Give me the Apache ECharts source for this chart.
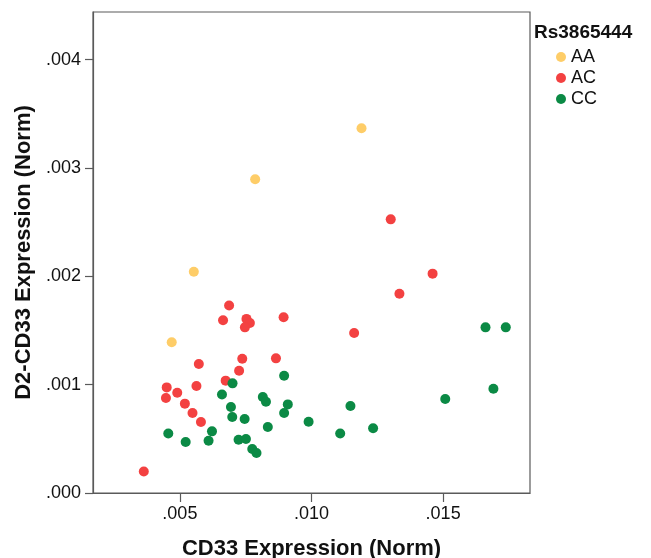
<!DOCTYPE html>
<html>

<head>
    <meta http-equiv="Content-Type" content="text/html; charset=utf-8" />
    <title>D2-CD33 vs CD33</title>
    <script src="https://cdn.jsdelivr.net/npm/echarts@6/dist/echarts.min.js"></script>
    <style>
        html, body { margin: 0; padding: 0; background: #fff; }
        #div1 { width: 651px; height: 558px; }
    </style>
</head>

<body>

    <div id="div1"></div>
    <script type="text/javascript">
        // genotype groups, [CD33, D2-CD33]
        var genotypes = ['AA', 'AC', 'CC'];

        var aaData = [
            [0.01190, 0.003367], [0.00786, 0.002896], [0.00553, 0.002043], [0.00469, 0.001391]
        ];

        var acData = [
            [0.00687, 0.001730], [0.00664, 0.001594], [0.00753, 0.001607], [0.00766, 0.001570],
            [0.00747, 0.001529], [0.00894, 0.001622], [0.00572, 0.001191], [0.00737, 0.001240],
            [0.00865, 0.001243], [0.00725, 0.001129], [0.00674, 0.001037], [0.00450, 0.000975],
            [0.00563, 0.000988], [0.00490, 0.000926], [0.00447, 0.000877], [0.00519, 0.000825],
            [0.00548, 0.000739], [0.00580, 0.000656], [0.00363, 0.000199], [0.01334, 0.001840],
            [0.01162, 0.001477], [0.01301, 0.002526], [0.01460, 0.002025]
        ];

        var ccData = [
            [0.00700, 0.001012], [0.00896, 0.001083], [0.00660, 0.000910], [0.00815, 0.000886],
            [0.00827, 0.000843], [0.00694, 0.000794], [0.00910, 0.000818], [0.00699, 0.000702],
            [0.00746, 0.000683], [0.00896, 0.000739], [0.00989, 0.000658], [0.00834, 0.000609],
            [0.00622, 0.000569], [0.00456, 0.000550], [0.00609, 0.000483], [0.00522, 0.000471],
            [0.00723, 0.000492], [0.00751, 0.000499], [0.00775, 0.000406], [0.00791, 0.000369],
            [0.01661, 0.001529], [0.01738, 0.001529], [0.01691, 0.000963], [0.01508, 0.000868],
            [0.01148, 0.000803], [0.01234, 0.000597], [0.01109, 0.000550]
        ];

        var xTicks = [0.005, 0.010, 0.015];
        var yTicks = [0, 0.001, 0.002, 0.003, 0.004];

        var colors = ['#fecd68', '#f34141', '#0b8a45'];

        var myChart = echarts.init(document.getElementById('div1'));

        function fmt(v) {
            return v.toFixed(3).replace(/^0/, '');
        }

        var dot = function(name, data, color) {
            return {
                name: name,
                type: 'scatter',
                data: data,
                symbol: 'circle',
                symbolSize: 10,
                itemStyle: { color: color, opacity: 1 }
            };
        };

        var option = {
            animation: false,
            textStyle: { fontFamily: 'Liberation Sans, Arial, sans-serif' },
            title: {
                text: 'Rs3865444',
                left: 534,
                top: 23,
                padding: 0,
                textStyle: { fontSize: 19, fontWeight: 'bold', color: '#111' }
            },
            legend: {
                data: genotypes,
                orient: 'vertical',
                left: 556,
                top: 48,
                padding: 0,
                icon: 'circle',
                itemWidth: 10,
                itemHeight: 10,
                itemGap: 3,
                textStyle: { fontSize: 18, lineHeight: 18, color: '#111' }
            },
            grid: {
                left: 93,
                right: 121,
                top: 12,
                bottom: 65,
                outerBoundsMode: 'none',
                containLabel: false,
                show: true,
                borderColor: '#5a5a5a',
                borderWidth: 1.2
            },
            xAxis: {
                type: 'value',
                min: 0.0017,
                max: 0.0183,
                name: 'CD33 Expression (Norm)',
                nameLocation: 'middle',
                nameGap: 45,
                nameTextStyle: { fontSize: 22, fontWeight: 'bold', color: '#111' },
                splitLine: { show: false },
                axisLine: { lineStyle: { color: '#5a5a5a', width: 1.2 } },
                axisTick: { length: 9, customValues: xTicks, lineStyle: { color: '#5a5a5a', width: 1.2 } },
                axisLabel: { customValues: xTicks, fontSize: 18, color: '#111', margin: 12, formatter: fmt }
            },
            yAxis: {
                type: 'value',
                min: 0,
                max: 0.00444,
                name: 'D2-CD33 Expression (Norm)',
                nameLocation: 'middle',
                nameGap: 45,
                nameTextStyle: { fontSize: 22, fontWeight: 'bold', color: '#111' },
                splitLine: { show: false },
                axisLine: { lineStyle: { color: '#5a5a5a', width: 1.2 } },
                axisTick: { length: 8, customValues: yTicks, lineStyle: { color: '#5a5a5a', width: 1.2 } },
                axisLabel: { customValues: yTicks, fontSize: 18, color: '#111', margin: 12, formatter: fmt }
            },
            series: [
                dot('AA', aaData, colors[0]),
                dot('AC', acData, colors[1]),
                dot('CC', ccData, colors[2])
            ]
        };

        myChart.setOption(option);
    </script>
</body>

</html>
